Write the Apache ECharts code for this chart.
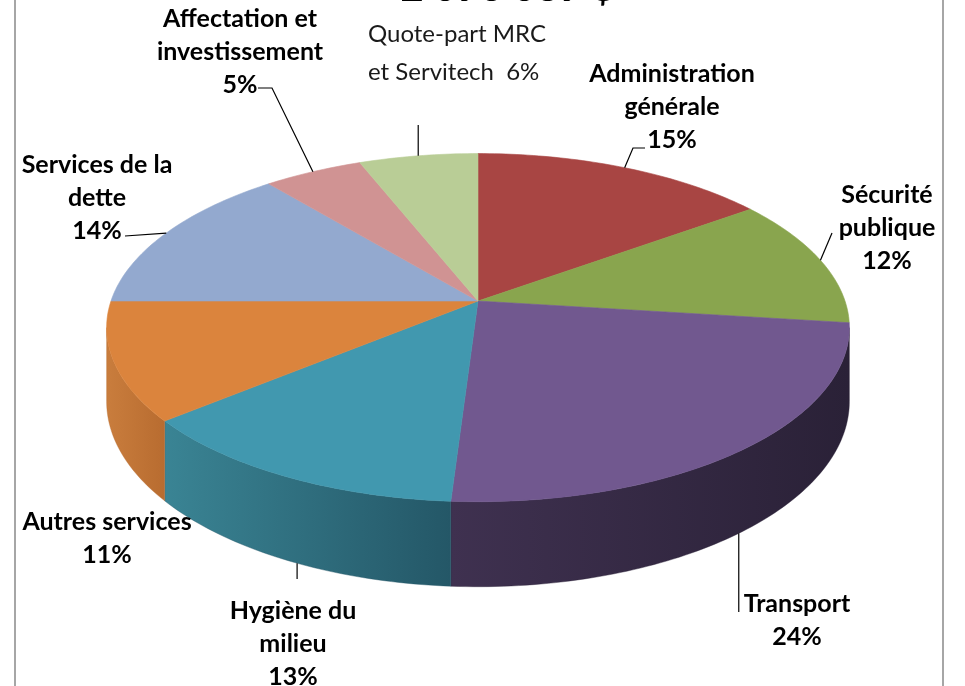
<!DOCTYPE html>
<html>
<head>
<meta charset="utf-8">
<title>Dépenses</title>
<style>
html,body{margin:0;padding:0;background:#fff;}
#main{width:965px;height:686px;}
</style>
<script src="https://cdn.jsdelivr.net/npm/echarts@6/dist/echarts.min.js"></script>
</head>
<body>
<div id="main"></div>
<script>
// données
var categories = ['Administration\ngénérale', 'Sécurité\npublique', 'Transport', 'Hygiène du\nmilieu',
    'Autres services', 'Services de la\ndette', 'Affectation et\ninvestissement', 'Quote-part MRC\net Servitech'];
var percents = [15, 12, 24, 13, 11, 14, 5, 6];
var titleText = '2 093 089 $';

// couleurs
var colors = ['#A84543', '#89A54E', '#71588F', '#4198AF', '#DB843D', '#93A9CF', '#D09393', '#B9CD96'];
var sideColors = [['#7d3130', '#6a2827'], ['#6a8139', '#566a2d'], ['#3f3150', '#2a2137'], ['#3a8494', '#245767'],
    ['#c97d3d', '#b86c30'], ['#6f84a8', '#5d7090'], ['#a06a6a', '#8b5858'], ['#8ea06e', '#7a8b5d']];

// pie 3D (faux) : centre, rayons, épaisseur, perspective
var pie = {cx: 478, cy: 301, rx: 367, ry: 170, depth: 72, persp: 0.153};

// étiquettes : position du texte, point d'accroche (fraction de la part), coude du trait
var labelSpots = [
    {x: 672, y: 107, line: [[633, 148], [645, 148]]},
    {x: 887, y: 228, line: [[832, 233]]},
    {x: 797, y: 620, at: 0.51, vert: 612},
    {x: 293, y: 644, at: 0.46, vert: 579},
    {x: 107, y: 538},
    {x: 97,  y: 198, line: [[125, 236]]},
    {x: 240, y: 52,  line: [[272, 88], [258, 88]]},
    {x: 368, y: 53,  vert: 125, plain: true}
];

var total = 0;
for (var i = 0; i < percents.length; i++) total += percents[i];
var starts = [];
var acc = 0;
for (var i = 0; i < percents.length; i++) { starts.push(acc / total * 360); acc += percents[i]; }

// projection d'un point du disque (angle depuis midi, sens horaire)
function proj(deg, r, drop) {
    var t = deg * Math.PI / 180;
    var X = r * Math.sin(t), Z = -r * Math.cos(t);
    var d = 1 - pie.persp * Z;
    return [pie.cx + pie.rx * X / d, pie.cy + pie.ry * Z / d + drop * pie.depth / d];
}

var edge = Math.acos(-pie.persp) * 180 / Math.PI; // bord visible du cylindre

function arc(a0, a1, drop) {
    var pts = [];
    var n = Math.max(2, Math.ceil(Math.abs(a1 - a0)));
    for (var k = 0; k <= n; k++) pts.push(proj(a0 + (a1 - a0) * k / n, 1, drop));
    return pts;
}

function renderSlice(params, api) {
    var i = params.dataIndex;
    var v = api.value(0);
    var a0 = starts[i], a1 = a0 + v / total * 360;
    var children = [];

    // dessus
    var top = [[pie.cx, pie.cy]].concat(arc(a0, a1, 0));
    children.push({type: 'polygon', z2: 10, shape: {points: top},
        style: {fill: colors[i], stroke: colors[i], lineWidth: 0.6}});

    // côté
    var s = Math.max(a0, edge), e = Math.min(a1, 360 - edge);
    if (e > s) {
        var side = arc(s, e, 0).concat(arc(e, s, 1));
        children.push({type: 'polygon', z2: 5, shape: {points: side},
            style: {
                fill: new echarts.graphic.LinearGradient(0, 0, 1, 0, [
                    {offset: 0, color: sideColors[i][0]}, {offset: 1, color: sideColors[i][1]}]),
                stroke: sideColors[i][1], lineWidth: 0.4
            }});
    }

    // étiquette + trait
    var spot = labelSpots[i];
    var mid = a0 + (a1 - a0) * (spot.at || 0.5);
    var front = mid > edge && mid < 360 - edge;
    var p0 = proj(mid, 1, front ? 1 : 0);
    var pts = null;
    if (spot.line) pts = [p0].concat(spot.line);
    if (spot.vert) pts = [p0, [p0[0], spot.vert]];
    if (pts) {
        children.push({type: 'polyline', z2: 30, shape: {points: pts},
            style: {stroke: '#000', lineWidth: 1.2, fill: null}});
    }
    var txt = spot.plain ? categories[i] + '  ' + v + '%' : categories[i] + '\n' + v + '%';
    children.push({type: 'text', z2: 40, x: spot.x, y: spot.y,
        style: {
            text: txt, fill: spot.plain ? '#1a1a1a' : '#000',
            fontFamily: 'Lato', fontSize: spot.plain ? 24 : 25, fontWeight: spot.plain ? 'normal' : 'bold',
            lineHeight: spot.plain ? 38 : 33,
            align: spot.plain ? 'left' : 'center', verticalAlign: 'middle'
        }});

    return {type: 'group', children: children};
}

var myChart = echarts.init(document.getElementById('main'));
var option = {
    backgroundColor: '#fff',
    animation: false,
    graphic: [
        {type: 'text', x: 508, y: -12, z: 10,
            style: {text: titleText, fill: '#000', fontFamily: 'Lato', fontSize: 40, fontWeight: 'bold',
                align: 'center', verticalAlign: 'middle'}},
        {type: 'line', shape: {x1: 15, y1: 0, x2: 15, y2: 686}, style: {stroke: '#a6a6a6', lineWidth: 2}},
        {type: 'line', shape: {x1: 943, y1: 0, x2: 943, y2: 686}, style: {stroke: '#a6a6a6', lineWidth: 2}}
    ],
    series: [{
        type: 'custom',
        coordinateSystem: 'none',
        renderItem: renderSlice,
        data: percents
    }]
};
myChart.setOption(option);
</script>
</body>
</html>
